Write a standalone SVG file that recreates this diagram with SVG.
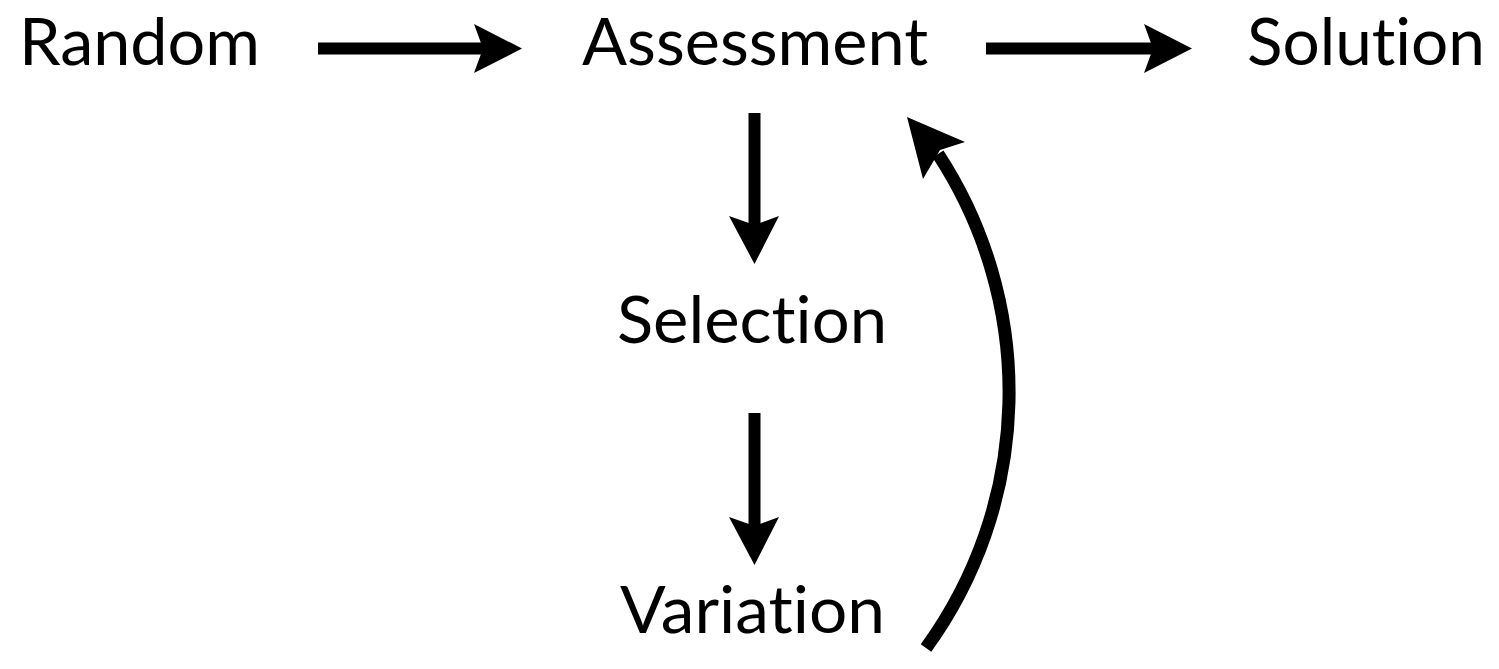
<svg xmlns="http://www.w3.org/2000/svg" width="1499" height="669" viewBox="0 0 1499 669">
<style>
.lbl{font-family:Lato,"Open Sans","Liberation Sans",sans-serif;font-size:66px;fill:#000;font-variant-ligatures:none;font-feature-settings:"liga" 0,"clig" 0}
.top{font-size:65px}
.shaft{stroke:#000;stroke-width:12;fill:none}
.curve{stroke:#000;stroke-width:13;fill:none}
.head{fill:#000}
</style>
<rect width="1499" height="669" fill="#fff"/>
<g id="node-random"><text class="lbl top" x="19" y="64.5" textLength="241" lengthAdjust="spacingAndGlyphs">Random</text></g>
<g id="node-assessment"><text class="lbl top" x="582" y="64.5" textLength="346" lengthAdjust="spacingAndGlyphs">Assessment</text></g>
<g id="node-solution"><text class="lbl top" x="1247" y="64.5" textLength="238" lengthAdjust="spacingAndGlyphs">Solution</text></g>
<g id="node-selection"><text class="lbl" x="617" y="343" textLength="270" lengthAdjust="spacingAndGlyphs">Selection</text></g>
<g id="node-variation"><text class="lbl" x="620" y="633" textLength="265" lengthAdjust="spacingAndGlyphs">Variation</text></g>
<g id="connectors">
<line class="shaft" x1="318" y1="48.5" x2="484" y2="48.5"/>
<polygon class="head" points="474,24 522,48.5 474,73 483,48.5"/>
<line class="shaft" x1="986" y1="48.5" x2="1154" y2="48.5"/>
<polygon class="head" points="1144,24 1192,48.5 1144,73 1153,48.5"/>
<line class="shaft" x1="754.5" y1="113" x2="754.5" y2="226"/>
<polygon class="head" points="729,216 754.5,264 779,216 754.5,225"/>
<line class="shaft" x1="754.5" y1="413" x2="754.5" y2="527"/>
<polygon class="head" points="729,517 754.5,565 779,517 754.5,526"/>
<path class="curve" d="M926,648 A435,435 0 0 0 938,154"/>
<polygon class="head" points="907,117 965,142 940,150 923,179"/>
</g>
</svg>
